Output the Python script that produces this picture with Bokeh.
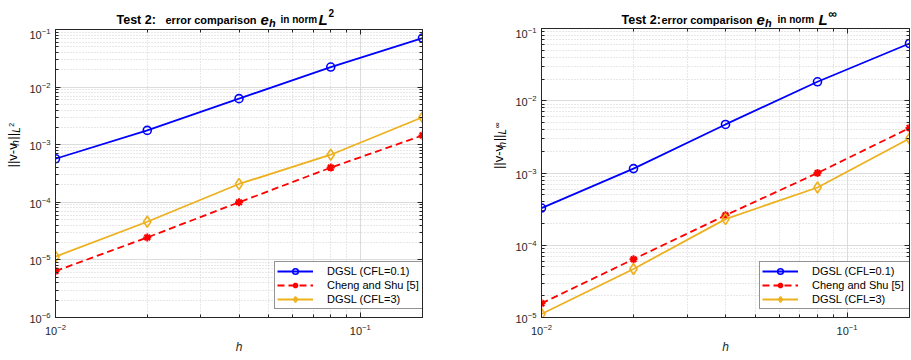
import math
from bokeh.plotting import figure
from bokeh.models import (Range1d, FixedTicker, LogTickFormatter, LogAxis,
                          CustomJSTickFormatter)
from bokeh.core.properties import value
from bokeh.layouts import row, column
from bokeh.embed import file_html
from bokeh.resources import INLINE

# ---------------- data ----------------
h = [0.01, 0.02, 0.04, 0.08, 0.16]

# Test 2, L2 norm
dgsl01_l2 = [5.7e-4, 1.77e-3, 6.3e-3, 2.23e-2, 7.1e-2]
cheng_l2 = [6.4e-6, 2.45e-5, 1.0e-4, 4.0e-4, 1.45e-3]
dgsl3_l2 = [1.14e-5, 4.6e-5, 2.08e-4, 6.7e-4, 3.0e-3]

# Test 2, L-infinity norm
dgsl01_inf = [3.27e-4, 1.15e-3, 4.7e-3, 1.83e-2, 6.2e-2]
cheng_inf = [1.57e-5, 6.4e-5, 2.6e-4, 1.0e-3, 4.2e-3]
dgsl3_inf = [1.12e-5, 4.7e-5, 2.3e-4, 6.3e-4, 3.0e-3]

series_labels = ["DGSL (CFL=0.1)", "Cheng and Shu [5]", "DGSL (CFL=3)"]

x_major = [0.01, 0.1]
x_minor = [k * 10.0 ** e for e in (-2, -1) for k in range(2, 10)]

FONT = "Liberation Sans"
AX = "#262626"
BLUE = "#0000ff"
RED = "#ff0000"
YEL = "#edb120"


def decade_ticks(lo_exp, hi_exp):
    major = [10.0 ** e for e in range(lo_exp, hi_exp + 1)]
    minor = [k * 10.0 ** e for e in range(lo_exp, hi_exp) for k in range(2, 10)]
    return major, minor


def style_axis(ax, show_labels=True):
    ax.axis_line_color = AX
    ax.major_tick_line_color = AX
    ax.minor_tick_line_color = AX
    ax.major_tick_in = 5
    ax.major_tick_out = 0
    ax.minor_tick_in = 3
    ax.minor_tick_out = 0
    if show_labels:
        ax.major_label_text_font = FONT
        ax.major_label_text_font_size = "11px"
        ax.major_label_text_color = AX
    else:
        ax.formatter = CustomJSTickFormatter(code="return ''")
        ax.major_label_standoff = 0


def make_panel(width, height, y_lo_exp, mbl, mbr, d_blue, d_red, d_yel,
               legend_xy):
    p = figure(width=width, height=height, x_axis_type="log",
               y_axis_type="log",
               x_range=Range1d(x_major[0], h[-1]),
               y_range=Range1d(10.0 ** y_lo_exp, 10.0 ** -1),
               output_backend="svg", toolbar_location=None,
               min_border_left=mbl, min_border_right=mbr,
               min_border_top=1, min_border_bottom=43)
    p.outline_line_color = AX
    p.background_fill_color = "white"
    p.border_fill_color = "white"

    ymaj, ymin = decade_ticks(y_lo_exp, -1)
    xt = FixedTicker(ticks=x_major, minor_ticks=x_minor)
    yt = FixedTicker(ticks=ymaj, minor_ticks=ymin)
    p.xaxis.ticker = xt
    p.yaxis.ticker = yt
    p.xgrid.ticker = xt
    p.ygrid.ticker = yt
    p.xaxis.formatter = LogTickFormatter()
    p.yaxis.formatter = LogTickFormatter()
    style_axis(p.xaxis[0])
    style_axis(p.yaxis[0])
    p.xaxis.major_label_standoff = 6
    p.yaxis.major_label_standoff = 5
    p.xaxis.axis_label = "h"
    p.xaxis.axis_label_text_font = FONT
    p.xaxis.axis_label_text_font_size = "12px"
    p.xaxis.axis_label_text_font_style = "italic"
    p.xaxis.axis_label_text_color = AX
    p.xaxis.axis_label_standoff = 2

    top = LogAxis(ticker=xt)
    style_axis(top, False)
    p.add_layout(top, "above")
    right = LogAxis(ticker=yt)
    style_axis(right, False)
    p.add_layout(right, "right")

    for g in (p.xgrid, p.ygrid):
        g.grid_line_color = "#dcdcdc"
        g.grid_line_width = 1
        g.minor_grid_line_color = "#d0d0d0"
        g.minor_grid_line_dash = "1 2"
        g.minor_grid_line_width = 1

    p.line(h, d_blue, color=BLUE, line_width=1.8, legend_label=series_labels[0])
    p.scatter(h, d_blue, marker="circle", size=8, fill_color=None,
              line_color=BLUE, line_width=1.6, legend_label=series_labels[0])
    p.line(h, d_red, color=RED, line_width=1.8, line_dash="7 4",
           legend_label=series_labels[1])
    p.scatter(h, d_red, marker="asterisk", size=8, line_color=RED,
              line_width=2, legend_label=series_labels[1])
    p.line(h, d_yel, color=YEL, line_width=1.8, legend_label=series_labels[2])
    p.scatter(h, d_yel, marker="diamond", size=11, fill_color=None,
              line_color=YEL, line_width=1.6, legend_label=series_labels[2])

    lg = p.legend[0]
    lg.location = legend_xy
    lg.border_line_color = AX
    lg.border_line_width = 1
    lg.background_fill_color = "white"
    lg.background_fill_alpha = 1
    lg.padding = 2
    lg.spacing = 0
    lg.margin = 0
    lg.glyph_width = 36
    lg.glyph_height = 14
    lg.label_height = 14
    lg.label_width = 95
    lg.label_standoff = 14
    lg.label_text_font = FONT
    lg.label_text_font_size = "11px"
    lg.label_text_color = "black"
    return p


def text_fig(x0, x1, y0, y1, pieces, angle=0.0, baseline="alphabetic"):
    """Blank figure whose data coordinates equal page pixels."""
    f = figure(width=x1 - x0, height=y1 - y0,
               x_range=Range1d(x0, x1), y_range=Range1d(y1, y0),
               output_backend="svg", toolbar_location=None,
               min_border=0, outline_line_color=None)
    f.axis.visible = False
    f.grid.visible = False
    f.background_fill_color = "white"
    f.border_fill_color = "white"
    for txt, px, py, sz, st in pieces:
        f.text(x=[px], y=[py], text=[txt], text_font=value(FONT),
               text_font_size=value(f"{sz}px"), text_font_style=value(st),
               text_color="black", angle=angle, text_align="left",
               text_baseline=baseline)
    return f


# ---------------- left panel (L2) ----------------
t1 = text_fig(0, 468, 0, 28, [
    ("Test 2:", 116, 19, 12.5, "bold"),
    ("error comparison", 165, 19, 11, "bold"),
    ("e", 260, 19, 15, "bold italic"),
    ("h", 268.5, 22, 11, "bold italic"),
    ("in norm", 280, 19, 10, "bold"),
    ("L", 318, 19, 15, "bold italic"),
    ("2", 328, 12.5, 10, "bold"),
])
yl1 = text_fig(0, 26, 28, 360, [
    ("||v-v", 11.5, 187, 13, "normal"),
    ("h", 15, 162, 10, "italic"),
    ("||", 11.5, 155, 13, "normal"),
    ("L", 15.5, 147, 10, "italic"),
    ("2", 10.5, 140, 7, "normal"),
], angle=math.pi / 2, baseline="middle")
p1 = make_panel(442, 332, -6, 27, 46, dgsl01_l2, cheng_l2, dgsl3_l2, (219, 8))

# ---------------- right panel (L-infinity) ----------------
t2 = text_fig(468, 911, 0, 27, [
    ("Test 2:", 621, 19, 12.5, "bold"),
    ("error comparison", 661, 19, 11, "bold"),
    ("e", 756, 19, 15, "bold italic"),
    ("h", 764.5, 22, 11, "bold italic"),
    ("in norm", 777, 19, 10, "bold"),
    ("L", 818, 19, 15, "bold italic"),
    ("\u221e", 828, 13, 12, "bold"),
])
yl2 = text_fig(468, 508, 27, 360, [
    ("||v-v", 498, 189, 13, "normal"),
    ("h", 501.5, 164, 10, "italic"),
    ("||", 498, 157, 13, "normal"),
    ("L", 502, 149, 10, "italic"),
    ("\u221e", 497, 142, 8, "normal"),
], angle=math.pi / 2, baseline="middle")
p2 = make_panel(403, 333, -5, 33, 2, dgsl01_inf, cheng_inf, dgsl3_inf, (218, 8))

layout = row(column(t1, row(yl1, p1)), column(t2, row(yl2, p2)))
open("out.html", "w").write(file_html(layout, INLINE))
